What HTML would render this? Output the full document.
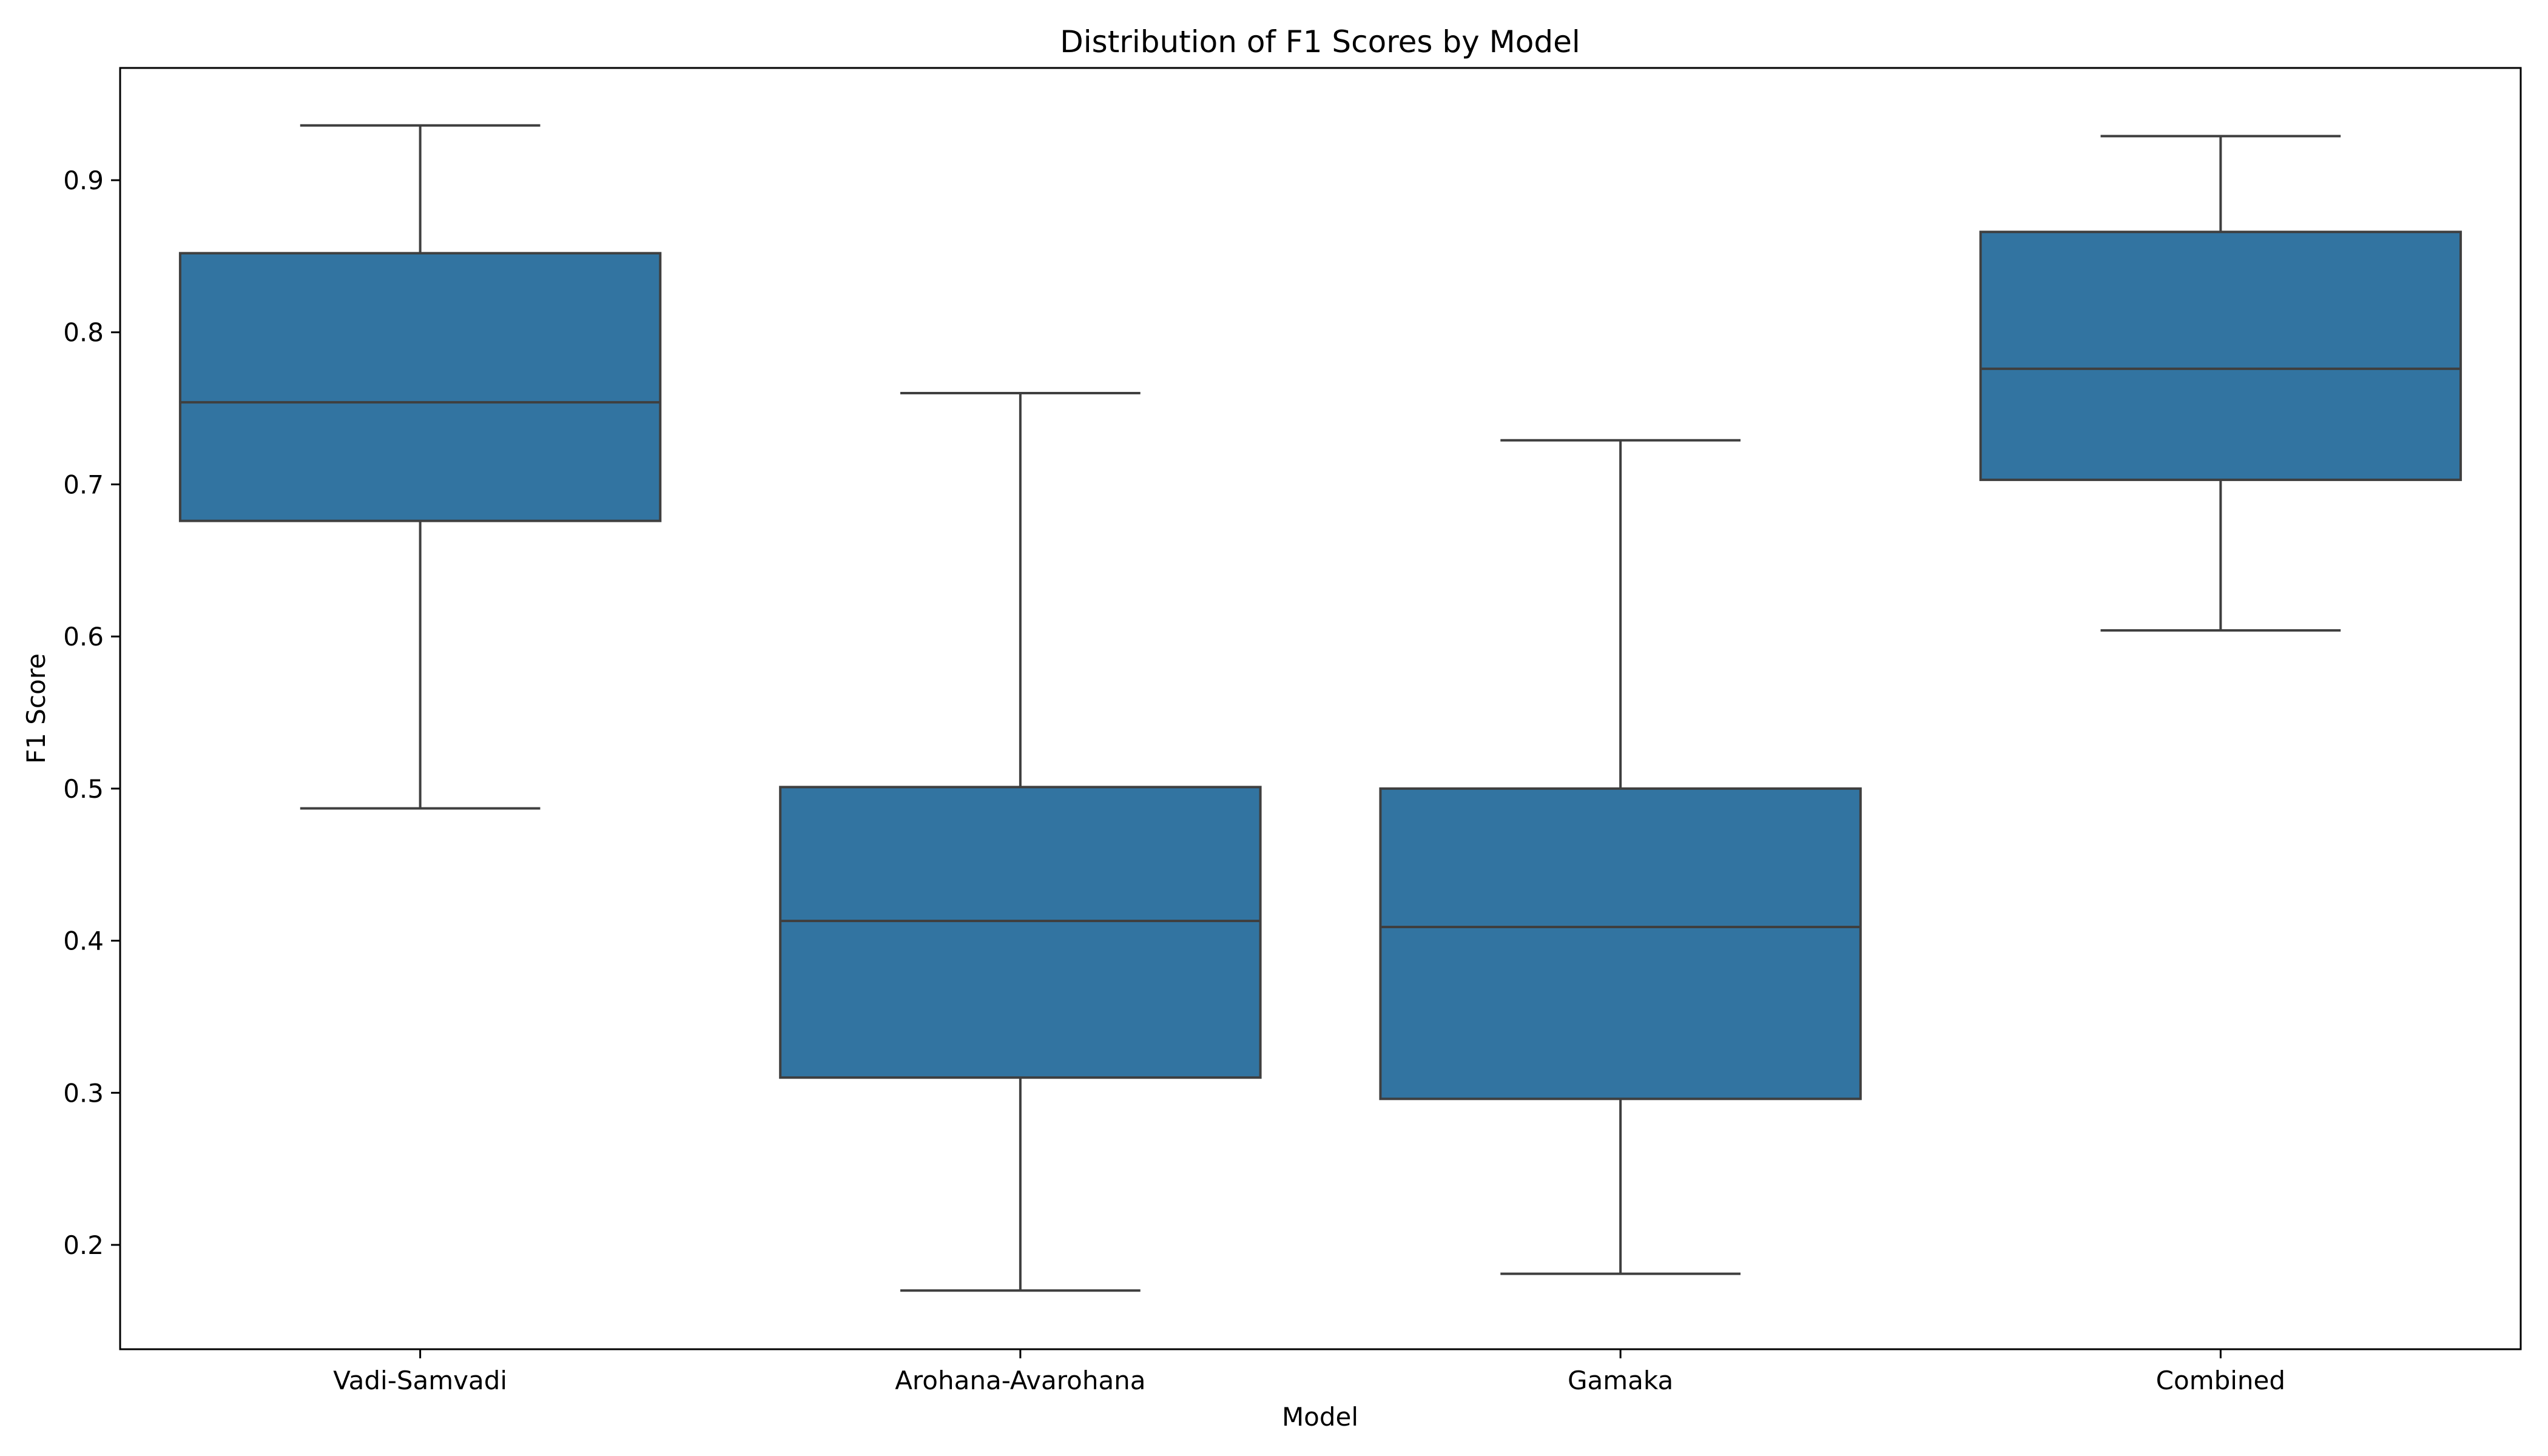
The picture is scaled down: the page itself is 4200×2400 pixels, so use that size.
<!DOCTYPE html>
<html><head><meta charset="utf-8"><style>
html,body{margin:0;padding:0;background:#fff;}
svg{display:block;font-family:"DejaVu Sans","Liberation Sans",sans-serif;}
</style></head><body>
<svg id="chart" width="4200" height="2400" viewBox="0 0 4200 2400" xmlns="http://www.w3.org/2000/svg">
<rect width="4200" height="2400" fill="#fff"/>
<g id="plot"></g>
<text x="2176" y="86" font-size="50" text-anchor="middle">Distribution of F1 Scores by Model</text>
<text x="2176" y="2350" font-size="42" text-anchor="middle">Model</text>
<text x="0" y="0" font-size="42" text-anchor="middle" transform="translate(74,1168) rotate(-90)">F1 Score</text>
</svg>
<script>
const categories = ["Vadi-Samvadi","Arohana-Avarohana","Gamaka","Combined"];
const whiskerLow = [0.487,0.170,0.181,0.604];
const q1 = [0.676,0.310,0.296,0.703];
const median = [0.754,0.413,0.409,0.776];
const q3 = [0.852,0.501,0.500,0.866];
const whiskerHigh = [0.936,0.760,0.729,0.929];
const yTicks = [0.2,0.3,0.4,0.5,0.6,0.7,0.8,0.9];
const yTickLabels = ["0.2","0.3","0.4","0.5","0.6","0.7","0.8","0.9"];

const L=198,R=4155,T=112,B=2224;
const yMin=0.1314,yMax=0.9738;
const y=v=>B-(v-yMin)/(yMax-yMin)*(B-T);
const band=(R-L)/categories.length;
const x=i=>L+band*(i+0.5);
const NS="http://www.w3.org/2000/svg";
const g=document.getElementById('plot');
function mk(tag,attrs){const e=document.createElementNS(NS,tag);for(const k in attrs)e.setAttribute(k,attrs[k]);g.appendChild(e);return e;}
const edge="#3f3f3f";
categories.forEach((c,i)=>{
  const cx=x(i),bw=band*0.8,cw=band*0.4;
  let e=mk('line',{x1:cx,x2:cx,y1:y(q3[i]),y2:y(whiskerHigh[i]),stroke:edge,'stroke-width':4});
  
  
  e=mk('line',{x1:cx,x2:cx,y1:y(q1[i]),y2:y(whiskerLow[i]),stroke:edge,'stroke-width':4});
  
  
  e=mk('line',{x1:cx-cw/2,x2:cx+cw/2,y1:y(whiskerHigh[i]),y2:y(whiskerHigh[i]),stroke:edge,'stroke-width':4});
  
  
  e=mk('line',{x1:cx-cw/2,x2:cx+cw/2,y1:y(whiskerLow[i]),y2:y(whiskerLow[i]),stroke:edge,'stroke-width':4});
  
  
  e=mk('rect',{x:cx-bw/2,y:y(q3[i]),width:bw,height:y(q1[i])-y(q3[i]),fill:"#3274a1",stroke:edge,'stroke-width':4});
  
  
  e=mk('line',{x1:cx-bw/2,x2:cx+bw/2,y1:y(median[i]),y2:y(median[i]),stroke:edge,'stroke-width':4});
  
  
  e=mk('line',{x1:cx,x2:cx,y1:B,y2:B+15,stroke:"#000",'stroke-width':3});
  
  
  e=mk('text',{x:cx,y:B+66,'font-size':42,'text-anchor':'middle'});
  e.textContent=c;
  
  
});
yTicks.forEach((v,i)=>{
  let e=mk('line',{x1:L-15,x2:L,y1:y(v),y2:y(v),stroke:"#000",'stroke-width':3});
  
  
  e=mk('text',{x:L-27,y:y(v)+15,'font-size':42,'text-anchor':'end'});
  e.textContent=yTickLabels[i];
  
  
});
const frame=mk('rect',{x:L,y:T,width:R-L,height:B-T,fill:'none',stroke:'#000','stroke-width':3});


</script>
</body></html>
